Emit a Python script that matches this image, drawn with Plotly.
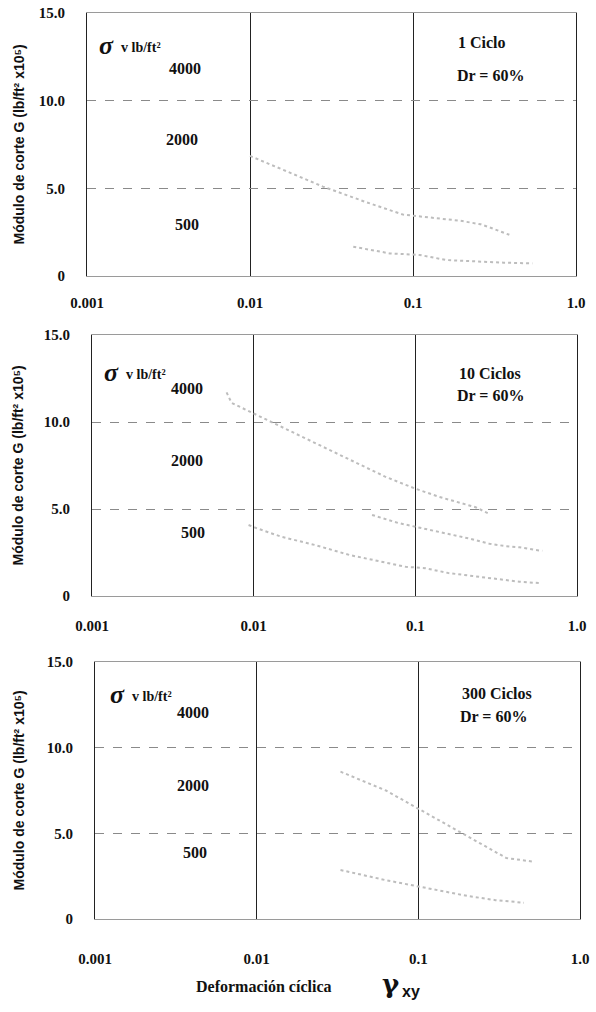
import plotly.graph_objects as go

W, H = 596, 1012

# ---------------- data ----------------
x_ticks = [0.001, 0.01, 0.1, 1.0]
x_tick_labels = ["0.001", "0.01", "0.1", "1.0"]
y_ticks = [0, 5, 10, 15]
y_tick_labels = ["0", "5.0", "10.0", "15.0"]

panel_titles = ["1 Ciclo", "10 Ciclos", "300 Ciclos"]

# Panel 1 (1 cycle)
p1_x_2000 = [0.01, 0.016, 0.028, 0.052, 0.087, 0.195, 0.26, 0.31, 0.39]
p1_g_2000 = [6.85, 6.05, 5.1, 4.2, 3.5, 3.15, 2.95, 2.7, 2.35]
p1_x_500 = [0.043, 0.072, 0.11, 0.16, 0.36, 0.54]
p1_g_500 = [1.67, 1.29, 1.2, 0.91, 0.76, 0.72]

# Panel 2 (10 cycles)
p2_x_4000 = [0.0068, 0.0073, 0.065, 0.078, 0.098, 0.14, 0.236, 0.29]
p2_g_4000 = [11.7, 11.1, 6.86, 6.57, 6.2, 5.7, 5.1, 4.7]
p2_x_2000 = [0.054, 0.067, 0.078, 0.216, 0.287, 0.36, 0.44, 0.556, 0.61]
p2_g_2000 = [4.66, 4.37, 4.2, 3.3, 3.0, 2.87, 2.8, 2.64, 2.6]
p2_x_500 = [0.0093, 0.0104, 0.0149, 0.024, 0.039, 0.056, 0.087, 0.115, 0.16,
            0.226, 0.314, 0.44, 0.59]
p2_g_500 = [4.08, 3.9, 3.4, 2.93, 2.36, 2.07, 1.68, 1.6, 1.32, 1.15, 0.98,
            0.82, 0.74]

# Panel 3 (300 cycles)
p3_x_2000 = [0.033, 0.063, 0.35, 0.52]
p3_g_2000 = [8.6, 7.5, 3.56, 3.34]
p3_x_500 = [0.033, 0.062, 0.2, 0.3, 0.45]
p3_g_500 = [2.86, 2.28, 1.35, 1.1, 0.95]

panel_series = [
    [(p1_x_2000, p1_g_2000), (p1_x_500, p1_g_500)],
    [(p2_x_4000, p2_g_4000), (p2_x_2000, p2_g_2000), (p2_x_500, p2_g_500)],
    [(p3_x_2000, p3_g_2000), (p3_x_500, p3_g_500)],
]

# ---------------- layout helpers ----------------
# pixel boxes of the plot areas: (left, right, top, bottom)
boxes = [(87, 576, 13, 276), (92, 577, 335, 596), (95, 580, 662, 919)]
x_standoffs = [13, 16, 26]


def px(x):
    return x / W


def py(y):
    return 1 - y / H


SERIF = "Liberation Serif"
SANS = "Liberation Sans"

fig = go.Figure()
layout = dict(
    width=W, height=H,
    margin=dict(l=0, r=0, t=0, b=0, autoexpand=False),
    paper_bgcolor="white", plot_bgcolor="white",
    showlegend=False,
)

annotations = []
for i, (box, series) in enumerate(zip(boxes, panel_series)):
    l, r, t, b = box
    n = "" if i == 0 else str(i + 1)
    xa, ya = "x" + n, "y" + n
    layout["xaxis" + n] = dict(
        type="log", range=[-3, 0], domain=[px(l), px(r)], anchor=ya,
        tickvals=x_ticks, ticktext=x_tick_labels, ticks="",
        showgrid=True, gridcolor="#222222", gridwidth=1,
        showline=True, mirror=True, linecolor="#9a9a9a", linewidth=1,
        zeroline=False, ticklabelstandoff=x_standoffs[i], automargin=False,
        tickfont=dict(family=SERIF, size=15, color="#111", weight="bold"),
    )
    layout["yaxis" + n] = dict(
        range=[0, 15], domain=[py(b), py(t)], anchor=xa,
        tickvals=y_ticks, ticktext=y_tick_labels, ticks="",
        showgrid=True, gridcolor="#8a8a8a", gridwidth=1, griddash="dash",
        showline=True, mirror=True, linecolor="#222222", linewidth=1.2,
        zeroline=False, ticklabelstandoff=18, automargin=False,
        tickfont=dict(family=SERIF, size=15, color="#111", weight="bold"),
    )
    for xs, gs in series:
        fig.add_trace(go.Scatter(
            x=xs, y=gs, mode="lines", xaxis=xa, yaxis=ya,
            line=dict(color="#bdbdbd", width=2, dash="dot"),
            hoverinfo="skip",
        ))

    # y-axis title
    annotations.append(dict(
        x=px(18), y=py((t + b) / 2), xref="paper", yref="paper",
        text="Módulo de corte G (lb/ft² x10⁵)", textangle=-90,
        showarrow=False, xanchor="center", yanchor="middle",
        font=dict(family=SANS, size=14, color="#111", weight="bold"),
    ))

# text labels inside panels (pixel positions)
sigma_pos = [(97, 46), (102, 372), (108, 694)]
label_pos = [
    [(185, 68), (182, 140), (187, 225)],
    [(187, 388), (187, 461), (193, 532)],
    [(193, 712), (193, 785), (195, 852)],
]
ciclo_pos = [(482, 43), (490, 373), (497, 693)]
dr_pos = [(490, 75), (490, 396), (493, 716)]
sigma_values = ["4000", "2000", "500"]

for i in range(3):
    sx, sy = sigma_pos[i]
    annotations.append(dict(
        x=px(sx), y=py(sy), xref="paper", yref="paper", showarrow=False,
        xanchor="left", yanchor="middle", text="σ",
        font=dict(family=SERIF, size=26, color="#111", weight="bold",
                  style="italic"),
    ))
    annotations.append(dict(
        x=px(sx + 22), y=py(sy + 2), xref="paper", yref="paper",
        showarrow=False, xanchor="left", yanchor="middle",
        text="v lb/ft²",
        font=dict(family=SERIF, size=14, color="#111", weight="bold"),
    ))
    for (lx, ly), val in zip(label_pos[i], sigma_values):
        annotations.append(dict(
            x=px(lx), y=py(ly), xref="paper", yref="paper", showarrow=False,
            xanchor="center", yanchor="middle", text=val,
            font=dict(family=SERIF, size=16, color="#111", weight="bold"),
        ))
    cx, cy = ciclo_pos[i]
    annotations.append(dict(
        x=px(cx), y=py(cy), xref="paper", yref="paper", showarrow=False,
        xanchor="center", yanchor="middle", text=panel_titles[i],
        font=dict(family=SERIF, size=16, color="#111", weight="bold"),
    ))
    dx, dy = dr_pos[i]
    annotations.append(dict(
        x=px(dx), y=py(dy), xref="paper", yref="paper", showarrow=False,
        xanchor="center", yanchor="middle", text="Dr = 60%",
        font=dict(family=SERIF, size=16, color="#111", weight="bold"),
    ))

# x-axis title
annotations.append(dict(
    x=px(264), y=py(986), xref="paper", yref="paper", showarrow=False,
    xanchor="center", yanchor="middle", text="Deformación cíclica",
    font=dict(family=SERIF, size=16, color="#111", weight="bold"),
))
annotations.append(dict(
    x=px(380), y=py(984), xref="paper", yref="paper", showarrow=False,
    xanchor="left", yanchor="middle", text="γ",
    font=dict(family="DejaVu Serif", size=26, color="#111", weight="bold"),
))
annotations.append(dict(
    x=px(400), y=py(991), xref="paper", yref="paper", showarrow=False,
    xanchor="left", yanchor="middle", text="xy",
    font=dict(family=SANS, size=16, color="#111", weight="bold"),
))

layout["annotations"] = annotations
fig.update_layout(**layout)
fig.write_html(
    "out.html",
    config={"displayModeBar": False},
    post_script="document.body.style.margin='0';"
                "document.body.style.padding='0';",
)
